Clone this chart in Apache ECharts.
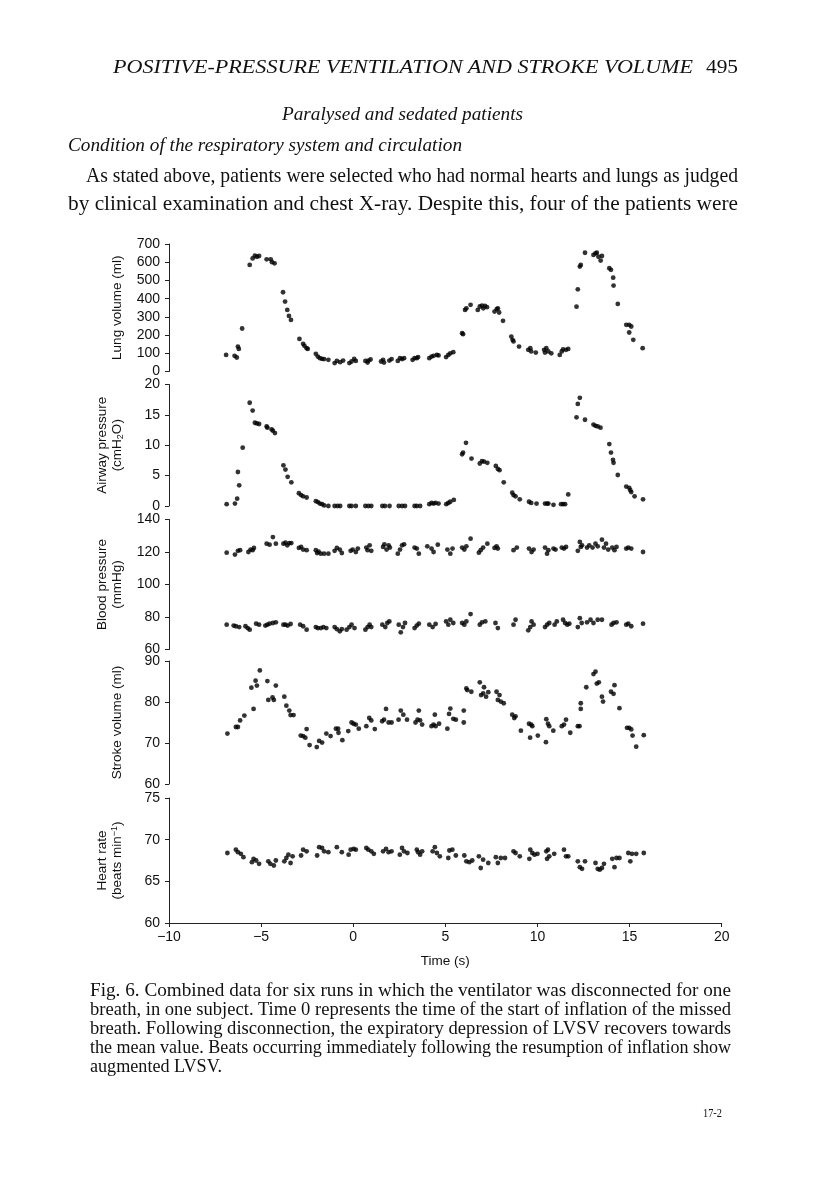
<!DOCTYPE html>
<html>
<head>
<meta charset="utf-8">
<script src="https://cdn.jsdelivr.net/npm/echarts@6/dist/echarts.min.js"></script>
<style>
  html, body { margin:0; padding:0; background:#fff; }
  #page { position:relative; width:816px; height:1200px; overflow:hidden; background:#fff; }
  #chart { position:absolute; left:0; top:0; width:816px; height:1200px; }
  .t { position:absolute; white-space:nowrap; line-height:1; color:#111;
       font-family:"Liberation Serif","DejaVu Serif",serif; transform-origin:0 0; z-index:2; }
  .it { font-style:italic; }
</style>
</head>
<body>
<div id="page">
  <div id="chart"></div>
  <div class="t it fit" data-w="580" style="left:113px;top:57px;font-size:19px;">POSITIVE-PRESSURE VENTILATION AND STROKE VOLUME</div>
  <div class="t fit" data-w="32" style="left:706px;top:57px;font-size:19px;">495</div>
  <div class="t it fit" data-w="241" style="left:282px;top:104px;font-size:19px;">Paralysed and sedated patients</div>
  <div class="t it fit" data-w="394" style="left:68px;top:135px;font-size:19px;">Condition of the respiratory system and circulation</div>
  <div class="t fit" data-w="652" style="left:86px;top:165px;font-size:21px;">As stated above, patients were selected who had normal hearts and lungs as judged</div>
  <div class="t fit" data-w="670" style="left:68px;top:193px;font-size:21px;">by clinical examination and chest X-ray. Despite this, four of the patients were</div>
  <div class="t fit" data-w="641" style="left:90px;top:981px;font-size:18px;">Fig. 6. Combined data for six runs in which the ventilator was disconnected for one</div>
  <div class="t fit" data-w="641" style="left:90px;top:1000px;font-size:18px;">breath, in one subject. Time 0 represents the time of the start of inflation of the missed</div>
  <div class="t fit" data-w="641" style="left:90px;top:1019px;font-size:18px;">breath. Following disconnection, the expiratory depression of LVSV recovers towards</div>
  <div class="t fit" data-w="641" style="left:90px;top:1038px;font-size:18px;">the mean value. Beats occurring immediately following the resumption of inflation show</div>
  <div class="t fit" data-w="132" style="left:90px;top:1057px;font-size:18px;">augmented LVSV.</div>
  <div class="t fit" data-w="19" style="left:703px;top:1106px;font-size:13px;">17-2</div>
</div>
<script>
// ---------------- data (time in s, value) ----------------
const xTicks = [-10, -5, 0, 5, 10, 15, 20];

const lungVolume = [[-6.90,91],[-6.44,86],[-6.32,77],[-6.26,137],[-6.21,124],[-6.03,236],[-5.62,585],[-5.46,621],[-5.34,636],[-5.23,630],[-5.11,634],[-4.70,616],[-4.48,616],[-4.41,600],[-4.27,594],[-3.81,435],[-3.70,384],[-3.58,338],[-3.49,305],[-3.38,283],[-2.92,179],[-2.72,152],[-2.65,141],[-2.53,128],[-2.47,124],[-2.03,97],[-1.92,82],[-1.81,73],[-1.69,69],[-1.58,68],[-1.35,64],[-1.01,46],[-0.89,58],[-0.71,51],[-0.55,60],[-0.21,46],[-0.09,55],[0.05,69],[0.14,58],[0.66,58],[0.78,49],[0.82,60],[0.94,66],[1.51,55],[1.62,64],[1.67,49],[1.96,60],[2.08,68],[2.42,58],[2.54,73],[2.65,68],[2.76,73],[3.22,64],[3.33,73],[3.45,73],[3.52,79],[4.13,73],[4.25,82],[4.36,86],[4.54,91],[4.63,88],[5.04,79],[5.16,91],[5.27,100],[5.43,106],[5.91,210],[5.96,205],[6.07,338],[6.14,347],[6.37,366],[6.76,338],[6.87,357],[6.99,362],[7.06,347],[7.15,360],[7.26,353],[7.67,329],[7.79,342],[7.85,347],[7.92,324],[8.13,278],[8.58,192],[8.65,174],[8.70,165],[9.00,137],[9.50,119],[9.61,128],[9.66,110],[9.91,104],[10.36,119],[10.41,104],[10.48,128],[10.59,110],[10.75,100],[11.21,91],[11.32,110],[11.39,122],[11.55,119],[11.67,124],[12.12,356],[12.19,451],[12.30,576],[12.35,585],[12.58,652],[13.04,640],[13.15,649],[13.22,652],[13.31,630],[13.43,609],[13.50,634],[13.90,567],[13.99,558],[14.11,515],[14.13,472],[14.36,371],[14.82,256],[14.98,256],[15.09,247],[14.98,214],[15.20,174],[15.71,128]];

const airwayPressure = [[-6.87,0.3],[-6.42,0.4],[-6.30,1.2],[-6.26,5.6],[-6.19,3.4],[-6.00,9.6],[-5.62,17.0],[-5.46,15.7],[-5.34,13.7],[-5.23,13.6],[-5.11,13.5],[-4.70,13.1],[-4.66,12.9],[-4.43,12.6],[-4.36,12.4],[-4.25,12.0],[-3.79,6.7],[-3.68,6.0],[-3.56,4.8],[-3.36,3.9],[-2.95,2.1],[-2.83,1.8],[-2.72,1.6],[-2.53,1.4],[-2.03,0.8],[-1.92,0.65],[-1.81,0.4],[-1.69,0.3],[-1.58,0.1],[-1.35,0],[-1.01,0],[-0.85,0],[-0.71,0],[-0.21,0],[-0.09,0],[0.14,0],[0.66,0],[0.82,0],[0.98,0],[1.58,0],[1.72,0],[1.97,0],[2.47,0],[2.65,0],[2.81,0],[3.33,0],[3.45,0],[3.63,0],[4.13,0.3],[4.25,0.5],[4.36,0.4],[4.47,0.5],[4.63,0.4],[5.05,0.3],[5.16,0.5],[5.27,0.7],[5.46,1.0],[5.91,8.5],[5.96,8.8],[6.12,10.4],[6.42,7.8],[6.87,7.0],[6.99,7.4],[7.10,7.3],[7.28,7.1],[7.74,6.6],[7.85,6.1],[7.94,5.9],[8.17,3.9],[8.63,2.2],[8.70,1.8],[8.81,1.6],[9.04,1.1],[9.54,0.7],[9.66,0.5],[9.95,0.4],[10.41,0.4],[10.52,0.4],[10.59,0.4],[10.87,0.2],[11.28,0.3],[11.39,0.3],[11.50,0.3],[11.67,1.9],[12.12,14.6],[12.19,16.8],[12.30,17.8],[12.58,14.2],[13.04,13.4],[13.15,13.2],[13.27,13.1],[13.42,12.9],[13.90,10.2],[13.99,8.8],[14.10,7.6],[14.13,7.1],[14.36,5.1],[14.82,3.2],[14.98,3.0],[15.04,2.6],[15.09,2.3],[15.27,1.6],[15.73,1.1]];

const systolicPressure = [[-6.87,119.6],[-6.42,118.4],[-6.26,120.7],[-6.14,121.1],[-5.69,120.0],[-5.57,121.5],[-5.46,121.1],[-5.39,122.5],[-4.70,125.1],[-4.54,124.5],[-4.36,129.2],[-4.20,125.1],[-3.79,125.1],[-3.68,125.7],[-3.58,124.1],[-3.47,125.5],[-3.36,125.5],[-2.95,122.5],[-2.83,123.1],[-2.72,121.5],[-2.53,121.1],[-2.03,121.1],[-1.96,119.4],[-1.88,120.2],[-1.76,119.0],[-1.58,119.0],[-1.35,119.0],[-1.01,120.7],[-0.89,122.5],[-0.73,121.5],[-0.62,119.4],[-0.14,120.7],[-0.03,121.5],[0.14,120.0],[0.25,122.1],[0.71,122.7],[0.78,121.1],[0.89,124.1],[0.98,120.7],[1.62,123.1],[1.69,124.7],[1.81,121.5],[1.92,124.1],[1.99,122.7],[2.42,119.0],[2.54,121.5],[2.65,124.1],[2.76,124.7],[3.33,122.7],[3.45,122.1],[3.56,119.0],[4.02,123.5],[4.25,122.1],[4.36,120.0],[4.59,124.5],[5.11,121.5],[5.27,119.0],[5.39,122.1],[5.91,122.7],[6.03,121.5],[6.14,123.5],[6.37,128.2],[6.82,119.6],[6.92,121.1],[7.05,122.7],[7.28,125.1],[7.67,122.5],[7.78,123.5],[7.85,122.1],[8.70,121.1],[8.88,122.7],[9.54,122.1],[9.68,120.0],[9.79,121.5],[10.41,122.7],[10.52,119.0],[10.59,121.1],[10.87,122.1],[10.98,121.5],[11.32,122.7],[11.44,122.1],[11.55,123.1],[12.19,120.7],[12.30,126.2],[12.35,123.1],[12.42,124.1],[12.69,122.7],[12.81,124.1],[12.99,122.7],[13.15,125.1],[13.27,123.5],[13.50,127.6],[13.61,122.7],[13.72,125.1],[13.84,121.5],[14.06,122.7],[14.18,121.1],[14.29,123.1],[14.82,122.1],[14.93,122.7],[15.09,122.1],[15.73,120.0]];

const diastolicPressure = [[-6.87,75.3],[-6.49,74.7],[-6.37,74.3],[-6.19,73.8],[-5.85,74.3],[-5.73,73.2],[-5.62,72.2],[-5.27,75.9],[-5.11,75.3],[-4.77,74.7],[-4.66,75.3],[-4.54,75.9],[-4.36,76.3],[-4.20,76.7],[-3.79,75.3],[-3.68,75.3],[-3.56,74.7],[-3.40,75.7],[-2.88,75.3],[-2.72,74.3],[-2.53,72.2],[-2.03,73.8],[-1.92,73.2],[-1.76,73.2],[-1.62,73.8],[-1.46,73.2],[-1.01,73.8],[-0.89,72.6],[-0.73,71.2],[-0.62,72.6],[-0.36,72.2],[-0.21,73.8],[-0.09,75.3],[0.07,73.2],[0.66,72.2],[0.78,73.8],[0.89,75.3],[0.98,73.8],[1.58,75.3],[1.74,73.8],[1.85,76.3],[1.96,77.3],[2.47,75.3],[2.58,70.6],[2.70,73.8],[2.81,76.3],[3.33,73.2],[3.45,74.7],[3.56,75.9],[4.13,75.3],[4.31,73.8],[4.47,75.7],[5.04,77.3],[5.16,75.3],[5.27,78.3],[5.43,76.3],[5.91,76.3],[6.03,75.3],[6.14,77.3],[6.37,81.8],[6.87,75.3],[6.99,76.7],[7.17,77.3],[7.72,76.3],[7.85,73.2],[8.70,75.3],[8.81,78.3],[9.50,71.8],[9.61,73.8],[9.68,77.3],[9.79,75.3],[10.41,73.8],[10.52,75.3],[10.64,76.3],[10.93,75.3],[11.05,77.3],[11.39,78.3],[11.50,76.3],[11.62,75.3],[11.73,75.9],[12.19,73.8],[12.30,79.3],[12.40,76.3],[12.69,76.7],[12.88,78.3],[13.04,76.3],[13.27,78.3],[13.50,78.3],[14.02,75.3],[14.13,76.3],[14.29,76.7],[14.82,75.3],[14.93,75.9],[15.09,74.3],[15.73,75.9]];

const strokeVolume = [[-6.83,72.3],[-6.37,73.9],[-6.26,73.9],[-6.14,75.5],[-5.91,76.7],[-5.53,83.5],[-5.41,78.3],[-5.30,85.2],[-5.23,84.0],[-5.07,87.7],[-4.66,85.1],[-4.61,80.5],[-4.38,81.1],[-4.31,80.5],[-4.20,84.0],[-3.74,81.3],[-3.63,79.1],[-3.47,77.9],[-3.40,76.8],[-3.24,76.8],[-2.85,71.8],[-2.72,71.7],[-2.60,71.3],[-2.53,73.4],[-2.37,69.5],[-1.98,69.0],[-1.85,70.5],[-1.69,70.1],[-1.46,72.3],[-1.23,71.7],[-0.94,73.5],[-0.82,73.5],[-0.80,72.5],[-0.59,70.7],[-0.27,72.9],[-0.09,75.0],[0.02,74.7],[0.14,74.5],[0.30,73.5],[0.71,74.1],[0.87,76.1],[0.98,75.5],[1.17,73.4],[1.57,75.3],[1.67,75.7],[1.78,78.3],[1.92,75.0],[2.08,75.0],[2.46,75.7],[2.58,77.9],[2.72,76.9],[2.92,75.7],[3.38,75.0],[3.49,75.7],[3.56,77.9],[3.63,75.5],[3.74,74.5],[4.25,74.1],[4.36,74.5],[4.43,76.9],[4.47,74.1],[4.66,74.7],[5.11,73.5],[5.20,77.1],[5.27,78.4],[5.43,75.9],[5.57,75.7],[6.00,75.0],[6.00,77.9],[6.14,83.3],[6.19,82.9],[6.41,82.5],[6.87,84.8],[6.94,81.7],[7.05,82.1],[7.10,83.6],[7.21,81.3],[7.33,82.4],[7.78,82.5],[7.85,80.5],[7.94,81.7],[8.01,80.1],[8.17,79.7],[8.63,76.9],[8.74,76.1],[8.81,76.5],[9.10,73.0],[9.54,74.7],[9.60,71.3],[9.66,74.5],[9.72,74.1],[10.02,71.8],[10.46,70.2],[10.48,75.8],[10.57,74.7],[10.64,74.1],[10.86,73.0],[11.32,74.1],[11.44,74.5],[11.55,75.7],[11.78,72.5],[12.19,74.1],[12.28,74.1],[12.35,79.7],[12.35,78.3],[12.65,83.6],[13.04,86.8],[13.15,87.4],[13.22,84.5],[13.33,84.8],[13.50,81.3],[13.56,80.1],[13.99,82.5],[14.13,82.0],[14.18,84.1],[14.45,78.5],[14.86,73.7],[14.98,73.7],[15.09,73.3],[15.16,71.8],[15.36,69.1],[15.77,71.9]];

const heartRate = [[-6.83,68.4],[-6.37,68.8],[-6.26,68.5],[-6.10,68.3],[-5.96,67.9],[-5.50,67.3],[-5.41,67.7],[-5.27,67.5],[-5.11,67.1],[-4.61,67.4],[-4.50,67.1],[-4.31,66.9],[-4.20,67.5],[-3.74,67.4],[-3.63,67.8],[-3.52,68.2],[-3.40,67.2],[-3.29,68.0],[-2.83,68.1],[-2.72,68.8],[-2.53,68.6],[-1.96,68.1],[-1.85,69.1],[-1.69,69.0],[-1.58,68.6],[-1.35,68.5],[-0.89,69.1],[-0.62,68.5],[-0.25,68.2],[-0.14,68.8],[0.02,68.9],[0.14,68.8],[0.71,69.0],[0.82,68.8],[0.98,68.6],[1.12,68.3],[1.62,68.6],[1.78,68.9],[1.92,68.5],[2.08,68.6],[2.53,68.2],[2.65,69.0],[2.76,68.6],[2.94,68.4],[3.45,68.8],[3.52,68.5],[3.63,68.2],[3.74,68.6],[4.31,68.6],[4.43,69.1],[4.54,68.4],[4.70,68.0],[5.16,67.8],[5.22,68.7],[5.38,68.8],[5.57,68.1],[6.03,68.1],[6.14,67.4],[6.30,67.3],[6.46,67.5],[6.82,68.0],[6.92,66.6],[7.05,67.6],[7.33,67.2],[7.74,67.9],[7.85,67.2],[8.01,67.8],[8.24,67.8],[8.70,68.6],[8.81,68.4],[9.04,68.0],[9.56,67.7],[9.61,68.8],[9.72,68.4],[9.84,68.2],[10.00,68.3],[10.48,68.6],[10.52,67.7],[10.57,68.8],[10.64,68.0],[10.91,68.3],[11.44,68.8],[11.55,68.0],[11.67,68.0],[12.19,67.4],[12.30,66.7],[12.42,66.5],[12.58,67.4],[13.15,67.2],[13.27,66.5],[13.38,66.4],[13.50,66.6],[13.61,67.1],[14.06,67.7],[14.18,66.7],[14.29,67.8],[14.45,67.8],[14.93,68.4],[15.04,67.4],[15.13,68.3],[15.36,68.3],[15.77,68.4]];

const panelNames = ['Lung volume (ml)', 'Airway pressure\n(cmH{sub|2}O)', 'Blood pressure\n(mmHg)', 'Stroke volume (ml)', 'Heart rate\n(beats min{sup|\u22121})'];
const panelRanges = [[0, 700, 100], [0, 20, 5], [60, 140, 20], [60, 90, 10], [60, 75, 5]];
const xName = 'Time (s)';

// ---------------- layout ----------------
const SANS = '"Liberation Sans", Arial, Helvetica, sans-serif';
const INK = '#111';
const LINE = '#222';
const gridBoxes = [
  {top: 244, height: 127.5},
  {top: 384.5, height: 121.5},
  {top: 519.5, height: 130},
  {top: 661, height: 123},
  {top: 798, height: 125}
];
const LEFT = 169, WIDTH = 552.7;

const grid = gridBoxes.map(b => ({left: LEFT, width: WIDTH, top: b.top, height: b.height, containLabel: false}));

const xAxis = gridBoxes.map((b, i) => {
  const last = i === gridBoxes.length - 1;
  return {
    type: 'value', gridIndex: i, min: xTicks[0], max: xTicks[xTicks.length - 1], interval: 5,
    show: last,
    name: last ? xName : '', nameLocation: 'middle', nameGap: 31,
    nameTextStyle: {fontFamily: SANS, fontSize: 13.5, color: INK},
    axisLine: {show: true, onZero: false, lineStyle: {color: LINE, width: 1}},
    axisTick: {show: true, length: 4, lineStyle: {color: LINE, width: 1}},
    axisLabel: {show: true, margin: 7, fontFamily: SANS, fontSize: 14, color: INK,
      formatter: v => (v < 0 ? '\u2212' + Math.abs(v) : String(v))},
    splitLine: {show: false}
  };
});

const yAxis = panelRanges.map((r, i) => ({
  type: 'value', gridIndex: i, min: r[0], max: r[1], interval: r[2],
  position: 'left',
  name: panelNames[i], nameLocation: 'middle', nameGap: 44,
  nameTextStyle: {
    fontFamily: SANS, fontSize: 13.5, lineHeight: 15, color: INK,
    rich: {
      sub: {fontFamily: SANS, fontSize: 9, lineHeight: 9, verticalAlign: 'bottom', color: INK},
      sup: {fontFamily: SANS, fontSize: 9, lineHeight: 9, verticalAlign: 'top', color: INK}
    }
  },
  axisLine: {show: true, onZero: false, lineStyle: {color: LINE, width: 1}},
  axisTick: {show: true, length: 4, lineStyle: {color: LINE, width: 1}},
  axisLabel: {show: true, margin: 9, fontFamily: SANS, fontSize: 14, color: INK},
  splitLine: {show: false}
}));

const panelSeries = [[lungVolume], [airwayPressure], [systolicPressure, diastolicPressure], [strokeVolume], [heartRate]];
const series = [];
panelSeries.forEach((list, i) => list.forEach(d => series.push({
  type: 'scatter', xAxisIndex: i, yAxisIndex: i, data: d,
  symbol: 'circle', symbolSize: 4.8, itemStyle: {color: '#000'}, silent: true
})));

const chart = echarts.init(document.getElementById('chart'), null, {renderer: 'canvas'});
chart.setOption({animation: false, backgroundColor: 'transparent', grid, xAxis, yAxis, series});

// fit text lines to measured widths of the printed page
function fitAll() {
  document.querySelectorAll('.fit').forEach(el => {
    el.style.transform = 'none';
    const w = +el.dataset.w;
    const nat = el.getBoundingClientRect().width;
    if (nat > 0) el.style.transform = 'scaleX(' + (w / nat) + ')';
  });
}
fitAll();
if (document.fonts && document.fonts.ready) document.fonts.ready.then(fitAll);
</script>
</body>
</html>
